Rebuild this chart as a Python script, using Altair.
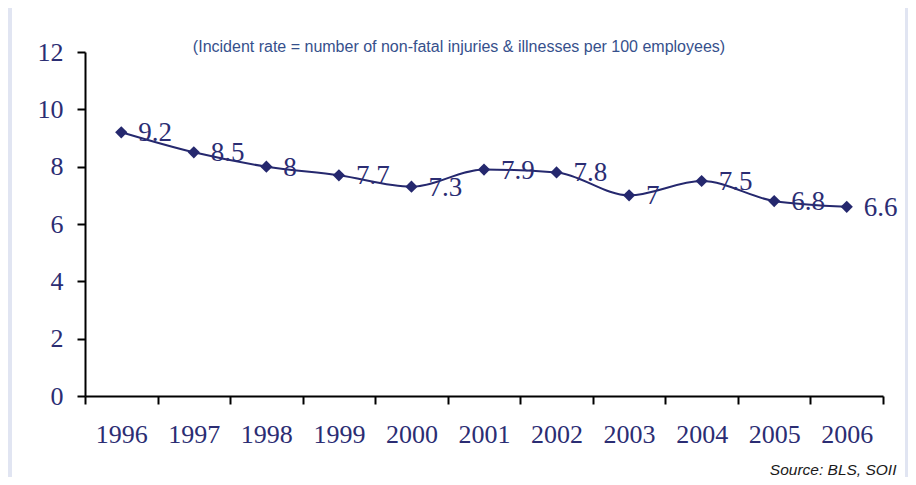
import altair as alt
import pandas as pd

years = ["1996", "1997", "1998", "1999", "2000", "2001", "2002", "2003", "2004", "2005", "2006"]
rates = [9.2, 8.5, 8.0, 7.7, 7.3, 7.9, 7.8, 7.0, 7.5, 6.8, 6.6]
y_ticks = [0, 2, 4, 6, 8, 10, 12]
note_text = "(Incident rate = number of non-fatal injuries & illnesses per 100 employees)"
source_text = "Source:  BLS, SOII"

NAVY = "#25286E"
LABEL = "#2B2D73"

df = pd.DataFrame({"year": years, "rate": rates})

x_enc = alt.X(
    "year:O",
    scale=alt.Scale(type="band", paddingInner=0, paddingOuter=0),
    axis=alt.Axis(
        title=source_text,
        titleFont="Liberation Sans",
        titleFontStyle="italic",
        titleFontWeight="normal",
        titleFontSize=15.5,
        titleColor="#1a1a1a",
        titleAnchor="end",
        titleAlign="right",
        titleX=811,
        titleY=73,
        titleBaseline="middle",
        labelAngle=0,
        labelFont="Liberation Serif",
        labelFontSize=26,
        labelColor=LABEL,
        labelPadding=17,
        tickBand="extent",
        tickSize=8,
        tickColor="black",
        tickWidth=2,
        domainColor="black",
        domainWidth=2,
        grid=False,
        zindex=1,
    ),
)
y_enc = alt.Y(
    "rate:Q",
    scale=alt.Scale(domain=[0, 12], nice=False),
    axis=alt.Axis(
        values=y_ticks,
        title=None,
        labelFont="Liberation Serif",
        labelFontSize=26,
        labelColor=LABEL,
        labelPadding=14,
        tickSize=8,
        tickColor="black",
        tickWidth=2,
        domainColor="black",
        domainWidth=2,
        grid=False,
        zindex=1,
    ),
)

panel = alt.Chart(pd.DataFrame({"k": [0]})).mark_rect(color="white").encode(
    x=alt.value(-73), x2=alt.value(820), y=alt.value(-44), y2=alt.value(430)
)

note = alt.Chart(pd.DataFrame({"t": [note_text]})).mark_text(
    font="Liberation Sans", fontSize=16, color="#36508C", align="center", baseline="middle"
).encode(text="t:N", x=alt.value(374), y=alt.value(-5))

base = alt.Chart(df).encode(x=x_enc, y=y_enc)
line = base.mark_line(color=NAVY, strokeWidth=2, interpolate="monotone")
pts = base.mark_point(shape="diamond", filled=True, size=150, color=NAVY, opacity=1)
lbl = base.mark_text(
    align="left", baseline="middle", dx=17, dy=1, font="Liberation Serif", fontSize=27, color=LABEL
).encode(text=alt.Text("rate:Q", format="~g"))

chart = (
    alt.layer(panel, note, line, pts, lbl)
    .properties(
        width=798,
        height=344,
        autosize=alt.AutoSizeParams(type="none"),
        padding={"left": 77, "top": 44, "right": 25, "bottom": 81},
        background="#E1E5F2",
    )
    .configure_view(stroke=None)
)

chart.save("out.html", embed_options={"renderer": "svg", "actions": False})
